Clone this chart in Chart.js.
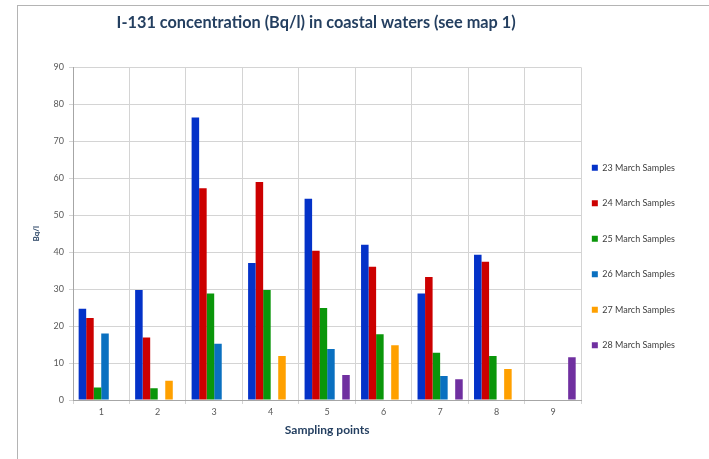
<!DOCTYPE html>
<html>
<head>
<meta charset="utf-8">
<script src="https://cdn.jsdelivr.net/npm/chart.js"></script>
<style>
  body { margin: 0; background: #fff; }
  #wrap { position: relative; width: 709px; height: 459px; overflow: hidden; }
  #frame { position: absolute; left: 17px; top: 5px; width: 720px; height: 470px;
           border-top: 1px solid #b4b4b4; border-left: 1px solid #b4b4b4; }
  canvas { position: absolute; left: 0; top: 0; }
</style>
</head>
<body>
<div id="wrap">
  <div id="frame"></div>
  <canvas id="chart" width="709" height="459"></canvas>
</div>
<script>
// Sampling points and I-131 readings (Bq/l), null = no sample that day
const samplingPoints = ['1', '2', '3', '4', '5', '6', '7', '8', '9'];
const march23 = [24.7, 29.8, 76.5, 37.1, 54.5, 42.0, 28.8, 39.3, null];
const march24 = [22.2, 16.9, 57.3, 59.0, 40.4, 36.1, 33.3, 37.4, null];
const march25 = [3.4, 3.2, 28.8, 29.8, 24.9, 17.8, 12.8, 11.9, null];
const march26 = [18.0, null, 15.2, null, 13.8, null, 6.5, null, null];
const march27 = [null, 5.2, null, 11.9, null, 14.8, null, 8.4, null];
const march28 = [null, null, null, null, 6.8, null, 5.6, null, 11.6];

const seriesNames = ['23 March Samples', '24 March Samples', '25 March Samples',
                     '26 March Samples', '27 March Samples', '28 March Samples'];
const seriesColors = ['#0432c8', '#cc0000', '#0a960a', '#0a70c0', '#ffa000', '#7030a0'];
const seriesData = [march23, march24, march25, march26, march27, march28];

const titleColor = '#243f60';
const tickColor = '#595959';

// nudge legend and title to where the original sheet had them
const boxNudge = {
    id: 'boxNudge',
    afterUpdate(chart) {
        if (chart.legend) {
            chart.legend.left -= 16;
            chart.legend.right -= 16;
            chart.legend.top += 34;
            chart.legend.bottom += 34;
        }
        if (chart.titleBlock) {
            chart.titleBlock.left -= 11;
            chart.titleBlock.right -= 11;
        }
    }
};

new Chart(document.getElementById('chart'), {
    type: 'bar',
    data: {
        labels: samplingPoints,
        datasets: seriesData.map((d, i) => ({
            label: seriesNames[i],
            data: d,
            backgroundColor: seriesColors[i],
            borderWidth: 0
        }))
    },
    plugins: [boxNudge],
    options: {
        responsive: false,
        animation: false,
        layout: { padding: { left: 28, right: 8, top: 0, bottom: 14 } },
        datasets: {
            bar: { categoryPercentage: 0.8, barPercentage: 1.0 }
        },
        scales: {
            x: {
                grid: { color: '#d4d4d4', tickLength: 4, offset: true },
                border: { color: '#a6a6a6' },
                ticks: { color: tickColor, font: { family: 'Lato', size: 9 }, padding: 3 },
                title: {
                    display: true,
                    text: 'Sampling points',
                    color: titleColor,
                    font: { family: 'Lato', size: 12, weight: 'bold' },
                    padding: { top: 2, bottom: 8 }
                },
                afterFit(scale) { scale.height = 45; }
            },
            y: {
                min: 0,
                max: 90,
                ticks: { stepSize: 10, color: tickColor, font: { family: 'Lato', size: 9 }, padding: 5 },
                grid: { color: '#d4d4d4', tickLength: 4 },
                border: { color: '#a6a6a6' },
                title: {
                    display: true,
                    text: 'Bq/l',
                    color: titleColor,
                    font: { family: 'Lato', size: 8, weight: 'bold' },
                    padding: 4
                },
                afterFit(scale) { scale.width = 45; }
            }
        },
        plugins: {
            title: {
                display: true,
                text: 'I-131 concentration (Bq/l) in coastal waters (see map 1)',
                color: titleColor,
                font: { family: 'Lato', size: 16.3, weight: 'bold' },
                padding: { top: 13, bottom: 35 },
                fullSize: false
            },
            legend: {
                position: 'right',
                labels: {
                    boxWidth: 6,
                    boxHeight: 6,
                    padding: 26.5,
                    color: '#404040',
                    font: { family: 'Lato', size: 9 }
                }
            },
            tooltip: { enabled: false }
        }
    }
});
</script>
</body>
</html>
